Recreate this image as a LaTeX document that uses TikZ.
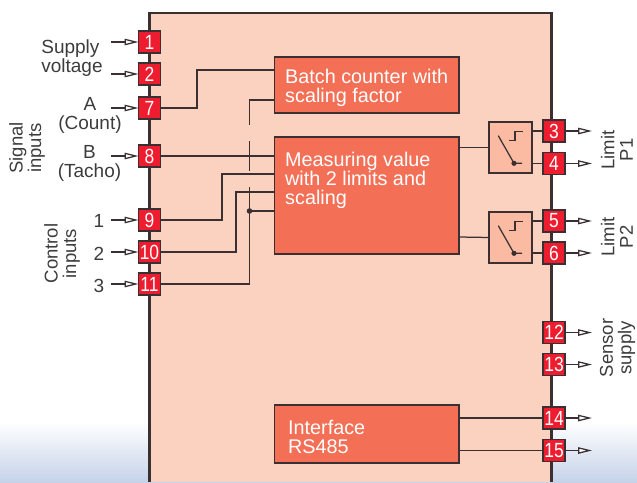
\documentclass[tikz,border=0pt]{standalone}
\usepackage{fontspec}
\setmainfont{Liberation Sans}
\usepackage{tikz}
\usetikzlibrary{calc,arrows.meta}

\definecolor{housingfill}{HTML}{FBD1C0}
\definecolor{blockfill}{HTML}{F36F55}
\definecolor{relayfill}{HTML}{FBBBA3}
\definecolor{pinfill}{HTML}{ED1C2E}
\definecolor{linecol}{HTML}{3A3032}
\definecolor{labelcol}{HTML}{3C3C3E}
\definecolor{shadecol}{HTML}{C5D2E8}

\tikzset{
	wire/.style={draw=linecol, line width=1.25pt},
	pin/.style={draw=linecol, line width=1.5pt, fill=pinfill, text=white, minimum size=22pt, inner sep=0pt, outer sep=0pt, font=\fontsize{20.5}{20.5}\selectfont},
	block/.style={draw=linecol, line width=1.5pt, fill=blockfill, anchor=north west, inner sep=0pt, outer sep=0pt},
	blocktext/.style={text=white, anchor=north west, align=left, inner sep=0pt, font=\fontsize{19.8}{19}\selectfont},
	relay/.style={draw=linecol, line width=1.5pt, fill=relayfill, anchor=north west, minimum width=43pt, minimum height=51pt, inner sep=0pt, outer sep=0pt},
	lab/.style={text=labelcol, align=center, inner sep=0pt, font=\fontsize{19}{19}\selectfont},
	sidelab/.style={text=labelcol, align=center, inner sep=0pt, rotate=90, font=\fontsize{18.5}{18.5}\selectfont},
	feed/.style={draw=linecol, line width=1.25pt, -{Triangle[open, fill=white, length=14pt, width=6.5pt]}},
}

\begin{document}
\begin{tikzpicture}[x=1pt, y=-1pt]
	\useasboundingbox (0,0) rectangle (637,482);

	% 1. background and housing
	\shade[top color=white, bottom color=shadecol] (0,422) rectangle (637,482);
	\fill[housingfill] (149.5,13) rectangle (551.5,482);
	\draw[linecol, line width=2.2pt] (149.5,482) -- (149.5,13) -- (551.5,13) -- (551.5,482);

	% 2. function blocks
	\node[block, minimum width=184.5pt, minimum height=56pt] (bcount) at (274.5,57) {};
	\node[block, minimum width=184.5pt, minimum height=117pt] (bmeas) at (274.5,137) {};
	\node[block, minimum width=184.5pt, minimum height=58pt] (bbus) at (274.5,405) {};
	\node[blocktext] (tcount) at (285,69) {Batch counter with\\scaling factor};
	\node[blocktext] (tmeas) at (285,152) {Measuring value\\with 2 limits and\\scaling};
	\node[blocktext] (tbus) at (288,420) {Interface\\RS485};

	% 3. limit relays
	\node[relay] (rel1) at (489,122) {};
	\node[relay] (rel2) at (489,212) {};

	% 4. terminals on the left and their feeds
	\foreach \num/\ypos in {1/42,2/74,7/108,8/156,9/220,10/252,11/284} {
		\node[pin] (pin\num) at (149.5,\ypos) {\scalebox{.85}[1]{\num}};
		\coordinate (in\num) at (111,\ypos);
		\draw[feed] (in\num) -- (pin\num.west);
	}

	% 5. terminals on the right and their outputs
	\foreach \num/\ypos in {3/131,4/163.5,5/221,6/253,12/332.5,13/364.5,14/418,15/450.5} {
		\node[pin] (pin\num) at (554,\ypos) {\scalebox{.85}[1]{\num}};
		\coordinate (out\num) at (592,\ypos);
		\draw[feed] (pin\num.east) -- (out\num);
	}

	% 6. wiring into the blocks
	\draw[wire] (pin7.east) -- (197,108) |- (bcount.north west |- 0,70);
	\draw[wire] (bcount.north west |- 0,100) -| (249.5,125);
	\draw[wire] (pin8.east) -- (bmeas.north west |- 0,156);
	\draw[wire] (249.5,141) -- (249.5,171);
	\draw[wire] (pin9.east) -- (222,220) |- (bmeas.north west |- 0,174);
	\draw[wire] (pin10.east) -- (236,252) |- (bmeas.north west |- 0,192);
	\draw[wire] (pin11.east) -| (249.5,187);
	\draw[wire] (bmeas.north west |- 0,211) -- (249.5,211);
	\fill[linecol] (249.5,211) circle (2.8pt);

	% 7. wiring to relays and interface
	\draw[wire] (bmeas.north east |- 0,147.5) -- (rel1.west);
	\draw[wire] (bmeas.north east |- 0,237) -- (rel2.west);
	\draw[wire] (rel1.north east |- pin3) -- (pin3.west);
	\draw[wire] (rel1.north east |- pin4) -- (pin4.west);
	\draw[wire] (rel2.north east |- pin5) -- (pin5.west);
	\draw[wire] (rel2.north east |- pin6) -- (pin6.west);
	\draw[wire] (bbus.north east |- pin14) -- (pin14.west);
	\draw[wire] (bbus.north east |- pin15) -- (pin15.west);

	% 8. switch symbols
	\foreach \rel in {rel1,rel2} {
		\draw[wire] ($(\rel.north west)+(20,18.7)$) -- ++(6,0) -- ++(0,-9.4) -- ++(7.7,0);
		\draw[wire] ($(\rel.north west)+(9.3,13.7)$) -- ($(\rel.north west)+(25,41.3)$) -- ++(8,0);
		\fill[linecol] ($(\rel.north west)+(25,41.3)$) circle (2.6pt);
	}

	% 9. labels
	\node[lab, align=left] (lsupply) at (72,58.5) {Supply\\voltage};
	\node[lab] (lcount) at (90,115.5) {A\\(Count)};
	\node[lab] (ltacho) at (89.5,163.5) {B\\(Tacho)};
	\node[lab] (lone) at (99,221) {1};
	\node[lab] (ltwo) at (99,254) {2};
	\node[lab] (lthree) at (99,286) {3};
	\node[sidelab] (lsignal) at (27,148) {Signal\\inputs};
	\node[sidelab] (lcontrol) at (62,253.5) {Control\\inputs};
	\node[sidelab] (llimone) at (617,150) {Limit\\P1};
	\node[sidelab] (llimtwo) at (617,237) {Limit\\P2};
	\node[sidelab] (lsensor) at (617.5,348) {Sensor\\supply};
\end{tikzpicture}
\end{document}
